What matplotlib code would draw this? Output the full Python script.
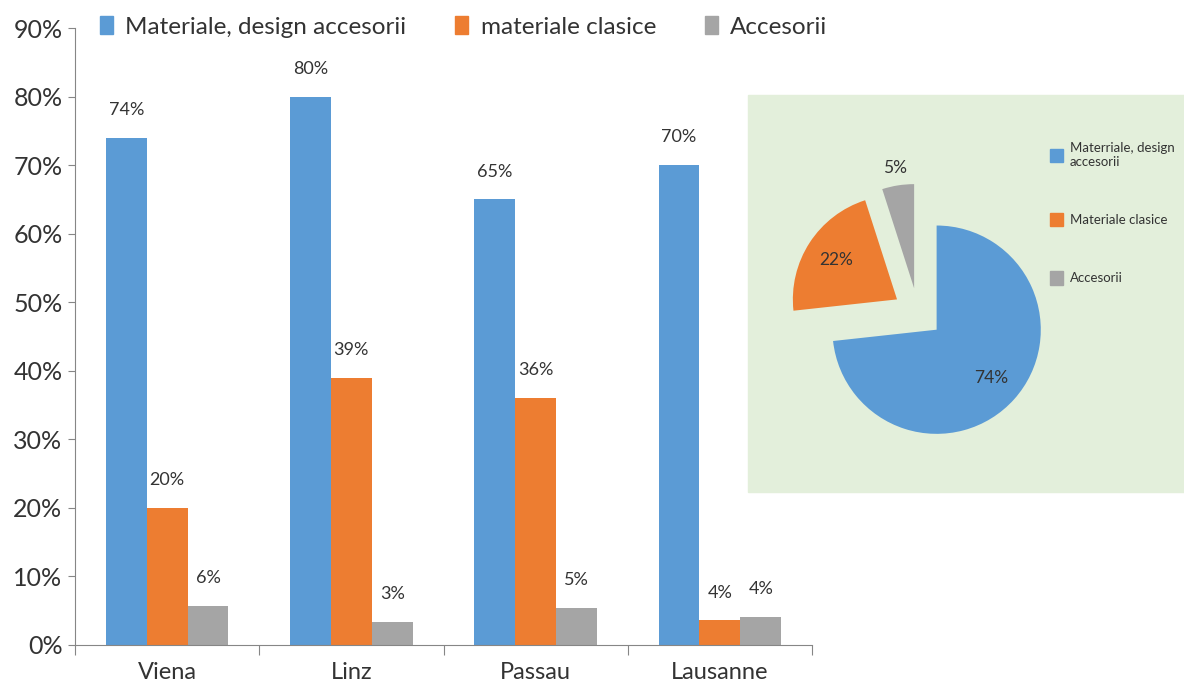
import numpy as np
import matplotlib.pyplot as plt
from matplotlib.patches import Rectangle, Patch

plt.rcParams['font.family'] = ['Lato', 'DejaVu Sans']

orase = ["Viena", "Linz", "Passau", "Lausanne"]
design = [74, 80, 65, 70]
clasice = [20, 39, 36, 3.6]
accesorii = [5.7, 3.4, 5.4, 4.1]
serii = ["Materiale, design accesorii", "materiale clasice", "Accesorii"]

pie_vals = [74, 22, 5]
pie_labels = ["Materriale, design\naccesorii", "Materiale clasice", "Accesorii"]

culori = ["#5b9bd5", "#ed7d31", "#a5a5a5"]
text_col = "#333333"
ax_col = "#868686"

fig = plt.figure(figsize=(11.84, 6.88), dpi=100)
ax = fig.add_axes([75/1184, 43/688, 737/1184, 617/688])

x = np.arange(len(orase))
w = 0.222
for i, (vals, nume) in enumerate(zip([design, clasice, accesorii], serii)):
    pos = x + (i - 1) * w
    ax.bar(pos, vals, width=w, color=culori[i], label=nume)
    for px, v in zip(pos, vals):
        ax.annotate(f"{v:.0f}%", (px, v), xytext=(0, 20), textcoords="offset points",
                    ha="center", va="center", fontsize=13, color=text_col)

ax.set_xlim(-0.5, 3.5)
ax.set_ylim(0, 90)
ax.set_yticks(range(0, 91, 10))
ax.set_yticklabels([f"{t}%" for t in range(0, 91, 10)])
ax.set_xticks(np.arange(-0.5, 3.6, 1))
ax.set_xticklabels([])
ax.set_xticks(x, minor=True)
ax.set_xticklabels(orase, minor=True)
ax.tick_params(axis="x", which="major", length=7, color=ax_col)
ax.tick_params(axis="x", which="minor", length=0, labelsize=17, colors=text_col, pad=12)
ax.tick_params(axis="y", length=5, color=ax_col, labelsize=18, labelcolor=text_col, pad=4)
for s in ["top", "right"]:
    ax.spines[s].set_visible(False)
for s in ["left", "bottom"]:
    ax.spines[s].set_color(ax_col)
ax.set_facecolor("white")

fig.legend(handles=[Patch(color=c) for c in culori], labels=serii, ncol=3,
           loc="center left", bbox_to_anchor=(78/1184, 1 - 27/688), frameon=False,
           fontsize=17.5, handlelength=0.55, handleheight=0.75, handletextpad=0.5,
           columnspacing=2.0, labelcolor=text_col)

# green panel with the overall pie
fig.patches.append(Rectangle((748/1184, 196/688), 436/1184, 397/688,
                             transform=fig.transFigure, color="#e3efdb", zorder=1))

ax2 = fig.add_axes([768/1184, 225/688, 300/1184, 300/688], zorder=2)
ax2.patch.set_visible(False)
wedges, _ = ax2.pie(pie_vals, colors=culori, startangle=90, counterclock=False,
                    explode=[0.24] * 3, radius=1)
dist = [0.7, 0.7, 1.17]
for wd, v, d in zip(wedges, pie_vals, dist):
    a = np.deg2rad((wd.theta1 + wd.theta2) / 2)
    cx, cy = wd.center
    ax2.text(cx + d * np.cos(a), cy + d * np.sin(a), f"{v}%", ha="center", va="center",
             fontsize=12.5, color=text_col)
ax2.set_xlim(-1.44, 1.44)
ax2.set_ylim(-1.44, 1.44)
ax2.set_aspect("equal")
ax2.axis("off")

fig.legend(handles=[Patch(color=c) for c in culori], labels=pie_labels,
           loc="upper left", bbox_to_anchor=(1038/1184, 1 - 130/688), frameon=False,
           fontsize=9.5, labelspacing=3.4, handlelength=1.0, handleheight=1.2,
           handletextpad=0.5, labelcolor=text_col)

fig.savefig("out.png", dpi=100)
